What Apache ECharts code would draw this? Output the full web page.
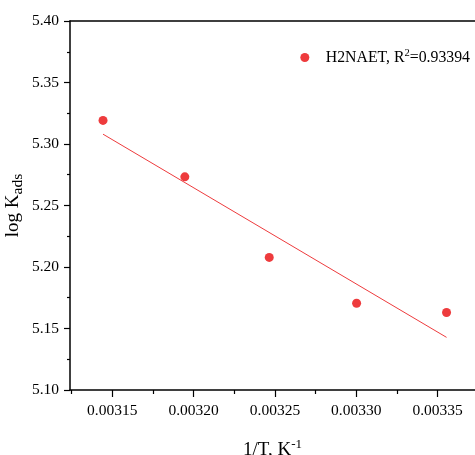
<!DOCTYPE html>
<html>
<head>
<meta charset="utf-8">
<script src="https://cdn.jsdelivr.net/npm/echarts@6/dist/echarts.min.js"></script>
<style>html,body{margin:0;padding:0;background:#fff}#c{width:475px;height:455px}</style>
</head>
<body>
<div id="c"></div>
<script>
// data
const invT = [0.0031443, 0.0031946, 0.0032465, 0.0033002, 0.0033555];
const logK = [5.3192, 5.2733, 5.2078, 5.1705, 5.1630];
const fitX = [0.0031443, 0.0033555];
const fitY = [5.3080, 5.1428];
const xTicks = [0.00315, 0.00320, 0.00325, 0.00330, 0.00335];
const xMinorTicks = [0.003125, 0.003175, 0.003225, 0.003275, 0.003325];
const seriesName = 'H2NAET, R2=0.93394';

const FONT = '"Liberation Serif", "Times New Roman", serif';
const RED = '#ee3b3d';
const chart = echarts.init(document.getElementById('c'), null, {renderer: 'canvas'});
const xMin = 0.003124, xMax = 0.003373;
chart.setOption({
  animation: false,
  backgroundColor: '#fff',
  grid: {left: 70, top: 21, right: 0, bottom: 65, containLabel: false, outerBoundsMode: 'none'},
  legend: {
    show: true, right: 0, top: 43, itemWidth: 32, itemHeight: 9, itemGap: 10,
    icon: 'circle',
    data: [{name: seriesName, icon: 'circle'}],
    itemStyle: {opacity: 1},
    formatter: () => '{t|H2NAET, R}{s|2}{t|=0.93394}',
    textStyle: {
      fontFamily: FONT, color: '#000',
      rich: {
        t: {fontFamily: FONT, fontSize: 15.8, color: '#000'},
        s: {fontFamily: FONT, fontSize: 10.5, color: '#000', verticalAlign: 'bottom', padding: [0, 0, 8, 0]}
      }
    }
  },
  xAxis: [
    {
      type: 'value', min: xMin, max: xMax, position: 'bottom',
      axisLine: {show: true, lineStyle: {color: '#000', width: 1.5}},
      axisTick: {show: true, inside: false, length: 7, customValues: xTicks, lineStyle: {color: '#000', width: 1.2}},
      axisLabel: {show: true, customValues: xTicks, margin: 13, fontFamily: FONT, fontSize: 15.5, color: '#000',
        formatter: v => v.toFixed(5)},
      splitLine: {show: false},
      name: '{m|1/T, K}{s|-1}', nameLocation: 'middle', nameGap: 48, nameMoveOverlap: false,
      nameTextStyle: {fontFamily: FONT, color: '#000',
        rich: {
          m: {fontFamily: FONT, fontSize: 19, color: '#000'},
          s: {fontFamily: FONT, fontSize: 13, color: '#000', verticalAlign: 'bottom', padding: [0, 0, 11, 0]}
        }}
    },
    {
      type: 'value', min: xMin, max: xMax, position: 'bottom',
      axisLine: {show: false},
      axisTick: {show: true, inside: false, length: 4, customValues: xMinorTicks, lineStyle: {color: '#000', width: 1.2}},
      axisLabel: {show: false},
      splitLine: {show: false}
    },
    {
      type: 'value', min: xMin, max: xMax, position: 'top',
      axisLine: {show: true, lineStyle: {color: '#000', width: 1.5}},
      axisTick: {show: false}, axisLabel: {show: false}, splitLine: {show: false}
    }
  ],
  yAxis: {
    type: 'value', min: 5.10, max: 5.40, interval: 0.05,
    axisLine: {show: true, lineStyle: {color: '#000', width: 1.5}},
    axisTick: {show: true, inside: false, length: 6, lineStyle: {color: '#000', width: 1.2}},
    minorTick: {show: true, splitNumber: 2, length: 3, lineStyle: {color: '#000', width: 1.2}},
    axisLabel: {margin: 11, fontFamily: FONT, fontSize: 15.5, color: '#000',
      formatter: v => v.toFixed(2)},
    splitLine: {show: false},
    name: '{m|log K}{s|ads}', nameLocation: 'middle', nameGap: 44, nameRotate: 90, nameMoveOverlap: false,
    nameTextStyle: {fontFamily: FONT, color: '#000',
      rich: {
        m: {fontFamily: FONT, fontSize: 19, color: '#000'},
        s: {fontFamily: FONT, fontSize: 15.5, color: '#000', verticalAlign: 'top', padding: [9, 0, 0, 0]}
      }}
  },
  series: [
    {
      name: seriesName, type: 'scatter', xAxisIndex: 0,
      symbol: 'circle', symbolSize: 9,
      itemStyle: {color: RED, opacity: 1},
      data: invT.map((x, i) => [x, logK[i]]),
      z: 3
    },
    {
      name: 'fit', type: 'line', xAxisIndex: 0,
      symbol: 'none', lineStyle: {color: RED, width: 1},
      data: fitX.map((x, i) => [x, fitY[i]]),
      z: 2
    }
  ]
});
</script>
</body>
</html>
